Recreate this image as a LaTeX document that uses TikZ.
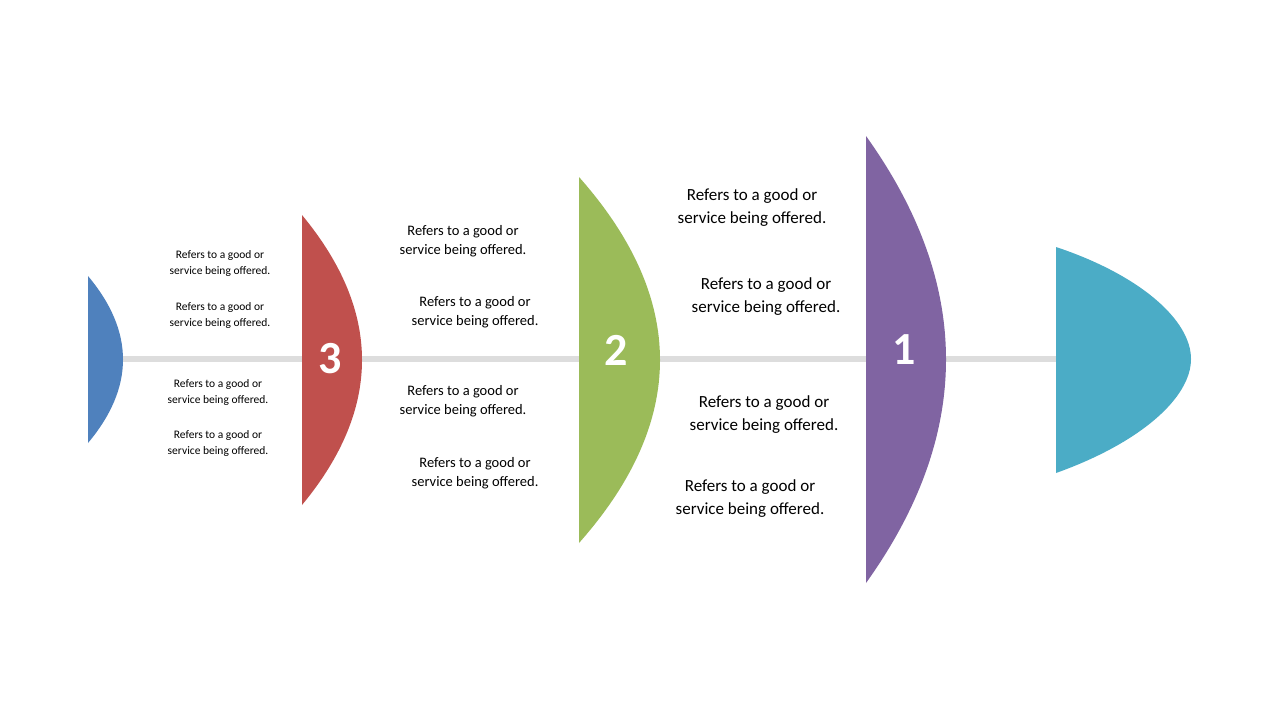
\documentclass[tikz,border=0pt]{standalone}
\usepackage{fontspec}
\setmainfont{Carlito}
\definecolor{cblue}{RGB}{79,129,189}
\definecolor{cred}{RGB}{192,80,77}
\definecolor{cgreen}{RGB}{155,187,89}
\definecolor{cpurple}{RGB}{128,100,162}
\definecolor{cteal}{RGB}{75,172,198}
\definecolor{cline}{RGB}{221,221,221}
\begin{document}
\begin{tikzpicture}[x=1pt,y=-1pt,
  t1/.style={align=center,font=\fontsize{11.5}{16}\selectfont},
  t2/.style={align=center,font=\fontsize{14.5}{19.5}\selectfont},
  t3/.style={align=center,font=\fontsize{17}{23}\selectfont},
  num/.style={text=white,font=\fontsize{46}{46}\selectfont\bfseries}]
\useasboundingbox (0,0) rectangle (1280,720);
\fill[white] (0,0) rectangle (1280,720);
\coordinate (L) at (123,359); \coordinate (R) at (1056,359);
\draw[line width=6pt,cline] (L) -- (R);
\newcommand\seg[5]{\fill[#5] (#1,#2) .. controls ({#1+4/3*#4},{#2+2/3*(#3-#2)/2}) and ({#1+4/3*#4},{#3-2/3*(#3-#2)/2}) .. (#1,#3) -- cycle;}
\seg{88}{276}{443}{35}{cblue}
\seg{302}{215}{505}{60}{cred}
\seg{579}{177}{543}{81}{cgreen}
\seg{866}{136}{583}{80}{cpurple}
\fill[cteal] (1056,247) .. controls (1140,275) and (1191,320) .. (1191,359) .. controls (1191,398) and (1140,443) .. (1056,473) -- cycle;
\node[num] (n3) at (330,359) {3};
\node[num] (n2) at (616,350) {2};
\node[num] (n1) at (904,350) {1};
\node[t1] (a1) at (220,263) {Refers to a good or\\service being offered.};
\node[t1] (a2) at (220,315) {Refers to a good or\\service being offered.};
\node[t1] (a3) at (218,392) {Refers to a good or\\service being offered.};
\node[t1] (a4) at (218,443) {Refers to a good or\\service being offered.};
\node[t2] (b1) at (463,241) {Refers to a good or\\service being offered.};
\node[t2] (b2) at (475,312) {Refers to a good or\\service being offered.};
\node[t2] (b3) at (463,401) {Refers to a good or\\service being offered.};
\node[t2] (b4) at (475,473) {Refers to a good or\\service being offered.};
\node[t3] (c1) at (752,208) {Refers to a good or\\service being offered.};
\node[t3] (c2) at (766,297) {Refers to a good or\\service being offered.};
\node[t3] (c3) at (764,415) {Refers to a good or\\service being offered.};
\node[t3] (c4) at (750,499) {Refers to a good or\\service being offered.};
\end{tikzpicture}
\end{document}
